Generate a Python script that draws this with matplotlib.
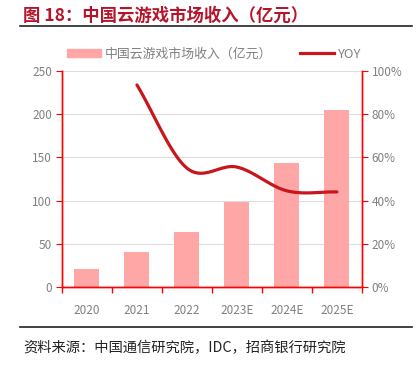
import numpy as np
import matplotlib
matplotlib.use("Agg")
import matplotlib.pyplot as plt
from matplotlib.lines import Line2D
from matplotlib.patches import Patch

plt.rcParams['font.family'] = ['Noto Sans CJK SC', 'DejaVu Sans']

lata = ["2020", "2021", "2022", "2023E", "2024E", "2025E"]
przychod = [21, 40.5, 63.5, 98, 143.5, 205]
yoy_lata = ["2021", "2022", "2023E", "2024E", "2025E"]
yoy = [93.5, 55, 55.5, 44.5, 44]

kolor_slupka = "#FFA7A7"
kolor_linii = "#C8161D"
kolor_osi = "#FF0000"
kolor_tekstu = "#808080"


def catmull_rom(x, y, n=30):
    # gladka linia jak w Excelu
    x = np.asarray(x, float)
    y = np.asarray(y, float)
    px = np.concatenate([[2 * x[0] - x[1]], x, [2 * x[-1] - x[-2]]])
    py = np.concatenate([[2 * y[0] - y[1]], y, [2 * y[-1] - y[-2]]])
    xs, ys = [], []
    for i in range(1, len(px) - 2):
        t = np.linspace(0, 1, n)
        for p, out in ((px, xs), (py, ys)):
            p0, p1, p2, p3 = p[i - 1], p[i], p[i + 1], p[i + 2]
            b1 = p1 + (p2 - p0) / 6
            b2 = p2 - (p3 - p1) / 6
            out.extend((1 - t) ** 3 * p1 + 3 * (1 - t) ** 2 * t * b1
                       + 3 * (1 - t) * t ** 2 * b2 + t ** 3 * p2)
    return np.array(xs), np.array(ys)


fig = plt.figure(figsize=(4.16, 3.65), dpi=100)
ax1 = fig.add_axes([0.149, 0.2137, 0.721, 0.592])
ax2 = ax1.twinx()

x = np.arange(len(lata))
ax1.bar(x, przychod, width=0.5, color=kolor_slupka, zorder=2)
ax1.set_xlim(-0.5, len(lata) - 0.5)
ax1.set_ylim(0, 250)
ax1.set_yticks(range(0, 251, 50))
ax1.set_xticks(np.arange(-0.5, len(lata), 1))
ax1.set_xticklabels([])
ax1.set_xticks(x, minor=True)
ax1.set_xticklabels(lata, minor=True)
ax1.tick_params(axis="x", which="minor", length=0, pad=12, labelsize=8.5, labelcolor=kolor_tekstu)
ax1.tick_params(axis="x", which="major", length=4, color=kolor_osi, width=1)
ax1.tick_params(axis="y", length=4, color=kolor_osi, labelsize=8.5, labelcolor=kolor_tekstu, pad=3)
ax1.grid(axis="y", color="#DDDDDD", linewidth=0.8, zorder=0)
ax1.set_axisbelow(True)

xl = [lata.index(r) for r in yoy_lata]
sx, sy = catmull_rom(xl, yoy)
ax2.plot(sx, sy, color=kolor_linii, linewidth=2.3, solid_capstyle="round", zorder=3)
ax2.set_ylim(0, 100)
ax2.set_yticks(range(0, 101, 20))
ax2.set_yticklabels([f"{v}%" for v in range(0, 101, 20)])
ax2.tick_params(axis="y", length=4, color=kolor_osi, labelsize=8.5, labelcolor=kolor_tekstu, pad=3)

for a in (ax1, ax2):
    a.spines["top"].set_visible(False)
    for s in ("left", "right", "bottom"):
        a.spines[s].set_color(kolor_osi)
        a.spines[s].set_linewidth(1)

uchwyty = [Patch(color=kolor_slupka), Line2D([], [], color=kolor_linii, linewidth=2.3)]
fig.legend(uchwyty, ["中国云游戏市场收入（亿元）", "YOY"], loc="center", bbox_to_anchor=(0.515, 0.852),
           ncol=2, frameon=False, fontsize=9.3, labelcolor=kolor_tekstu, handlelength=2.6,
           handleheight=0.55, columnspacing=2.2, handletextpad=0.3)

fig.text(0.055, 0.958, "图 18：中国云游戏市场收入（亿元）", color="#B5152B", fontsize=12.5,
         fontweight="bold", va="center")
fig.add_artist(Line2D([0.048, 0.99], [0.93, 0.93], color="#222222", linewidth=1.2))
fig.add_artist(Line2D([0.048, 0.99], [0.105, 0.105], color="#222222", linewidth=1.2))
fig.text(0.055, 0.048, "资料来源：中国通信研究院，IDC，招商银行研究院", color="#222222",
         fontsize=10.3, va="center")

fig.savefig("out.png", dpi=100)
